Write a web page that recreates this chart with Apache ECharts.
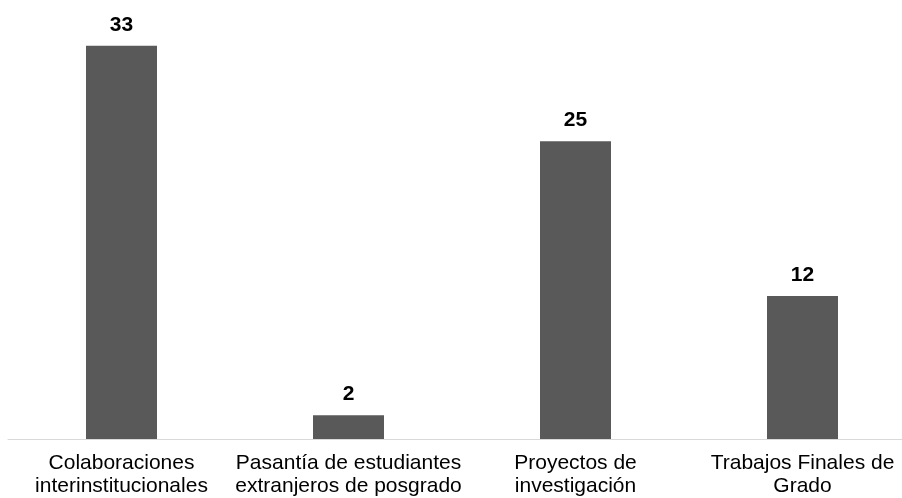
<!DOCTYPE html>
<html>
<head>
<meta charset="utf-8">
<script src="https://cdn.jsdelivr.net/npm/echarts@6/dist/echarts.min.js"></script>
<style>
  html, body { margin: 0; padding: 0; background: #fff; overflow: hidden; width: 902px; height: 498px; }
  /* the axis runs past the right edge, so the canvas is a little wider than the page */
  #chart { width: 917px; height: 498px; }
</style>
</head>
<body>
<div id="chart"></div>
<script>
// Activity categories (line breaks as shown under each bar)
const categories = [
  'Colaboraciones\ninterinstitucionales',
  'Pasantía de estudiantes\nextranjeros de posgrado',
  'Proyectos de\ninvestigación',
  'Trabajos Finales de\nGrado'
];
// Count per category
const counts = [33, 2, 25, 12];

const chart = echarts.init(document.getElementById('chart'));
chart.setOption({
  animation: false,
  backgroundColor: '#ffffff',
  grid: { left: 8, top: 22, right: 1, bottom: 58, containLabel: false },
  xAxis: {
    type: 'category',
    data: categories,
    axisLine: { show: true, lineStyle: { color: '#d9d9d9', width: 1 } },
    axisTick: { show: false },
    axisLabel: {
      interval: 0,
      margin: 13,
      color: '#000000',
      fontFamily: 'Liberation Sans, Arial, sans-serif',
      fontSize: 21,
      lineHeight: 23
    }
  },
  yAxis: {
    type: 'value',
    min: 0,
    max: 35,
    show: false,
    splitLine: { show: false }
  },
  series: [{
    type: 'bar',
    data: counts,
    barWidth: 71,
    itemStyle: { color: '#595959' },
    label: {
      show: true,
      position: 'top',
      distance: 10,
      color: '#000000',
      fontFamily: 'Liberation Sans, Arial, sans-serif',
      fontWeight: 'bold',
      fontSize: 21
    }
  }]
});
</script>
</body>
</html>
